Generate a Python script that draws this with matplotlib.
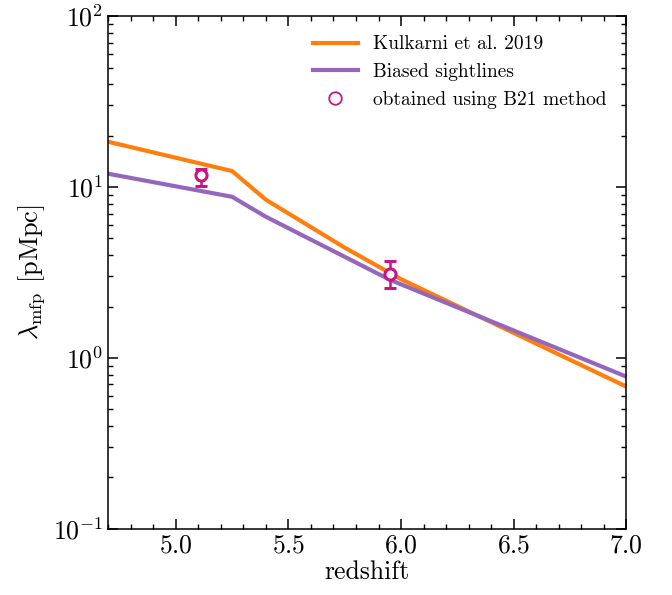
import matplotlib
matplotlib.use("Agg")
from matplotlib import pyplot as plt
from matplotlib.lines import Line2D
from matplotlib.ticker import MultipleLocator, LogLocator, NullFormatter

plt.rcParams["font.family"] = "serif"
plt.rcParams["font.serif"] = ["cmr10", "DejaVu Serif"]
plt.rcParams["mathtext.fontset"] = "cm"
plt.rcParams["axes.formatter.use_mathtext"] = True

# Kulkarni et al. 2019 mean free path
z_kulkarni = [4.7, 5.25, 5.4, 5.75, 6.0, 7.0]
mfp_kulkarni = [18.4, 12.4, 8.43, 4.42, 2.89, 0.68]

# Biased sightlines
z_biased = [4.7, 5.25, 5.4, 5.95, 7.0]
mfp_biased = [11.96, 8.77, 6.70, 2.87, 0.778]

# B21 method measurements
z_b21 = [5.11, 5.95]
mfp_b21 = [11.7, 3.10]
mfp_b21_lo = [10.1, 2.56]
mfp_b21_hi = [12.7, 3.70]

err_lo = [m - lo for m, lo in zip(mfp_b21, mfp_b21_lo)]
err_hi = [hi - m for m, hi in zip(mfp_b21, mfp_b21_hi)]

fig = plt.figure(figsize=(6.72, 5.95), dpi=100)
ax = fig.add_axes([0.161, 0.111, 0.771, 0.862])

ax.plot(z_kulkarni, mfp_kulkarni, color="#ff7f0e", lw=3, label="Kulkarni et al. 2019")
ax.plot(z_biased, mfp_biased, color="#9467bd", lw=3, label="Biased sightlines")
ax.errorbar(z_b21, mfp_b21, yerr=[err_lo, err_hi], fmt="o", color="#c71585",
            mfc="white", mec="#c71585", ms=8, mew=2.2, elinewidth=1.8,
            capsize=4.5, capthick=1.6, label="obtained using B21 method", zorder=5)

ax.set_yscale("log")
ax.set_xlim(4.7, 7.0)
ax.set_ylim(0.1, 100)

ax.xaxis.set_major_locator(MultipleLocator(0.5))
ax.xaxis.set_minor_locator(MultipleLocator(0.1))
ax.yaxis.set_minor_locator(LogLocator(base=10, subs=range(2, 10), numticks=20))
ax.yaxis.set_minor_formatter(NullFormatter())

ax.tick_params(which="both", direction="in", top=True, right=True, labelsize=18.5)
ax.tick_params(which="major", length=7, width=1.1)
ax.tick_params(which="minor", length=3.5, width=1.0)
for s in ax.spines.values():
    s.set_linewidth(1.1)

ax.set_xlabel("redshift", fontsize=18.5, labelpad=2)
ax.set_ylabel(r"$\lambda_{\rm mfp}$ [pMpc]", fontsize=19, labelpad=4)

# legend: swap the errorbar handle for a plain open circle
handles, labels = ax.get_legend_handles_labels()
handles[-1] = Line2D([], [], ls="none", marker="o", ms=9, mfc="white",
                     mec="#c71585", mew=1.3)
ax.legend(handles, labels, loc="upper right", frameon=False, fontsize=14,
          handlelength=2.3, borderaxespad=0.6)

plt.savefig("out.png", dpi=100)
plt.close()
